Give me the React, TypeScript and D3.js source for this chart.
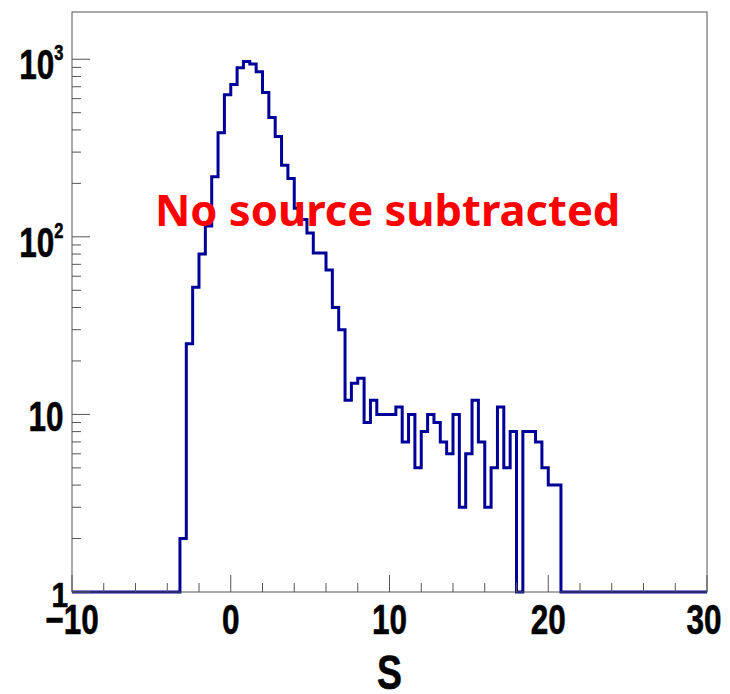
import React from "react";
import * as d3 from "d3";

// ---- data ----
const X_MIN = -10;
const X_MAX = 30;
const BIN_WIDTH = 0.4;
const Y_MIN = 1;
const Y_MAX = 1845;

// counts per bin (100 bins of width 0.4 from -10 to 30)
const counts: number[] = [
  0, 0, 0, 0, 0, 0, 0, 0, 0, 0,
  0, 0, 0, 0, 0, 0, 0, 2, 25, 52,
  80, 115, 218, 385, 630, 720, 895, 970, 940, 850,
  650, 470, 367, 253, 213, 145, 125, 105, 81, 81,
  65, 40, 30, 12, 15, 16, 9, 12, 10, 10,
  10, 11, 7, 10, 5, 8, 10, 9, 7, 6,
  10, 3, 6, 12, 7, 3, 5, 11, 5, 8,
  0, 8, 8, 7, 5, 4, 4, 0, 0, 0,
  0, 0, 0, 0, 0, 0, 0, 0, 0, 0,
  0, 0, 0, 0, 0, 0, 0, 0, 0, 0,
];

const xMajorTicks = [-10, 0, 10, 20, 30];
const xTickLabels = ["\u221210", "0", "10", "20", "30"];
const xMinorTicks = [-8, -6, -4, -2, 2, 4, 6, 8, 12, 14, 16, 18, 22, 24, 26, 28];
const yMajorTicks = [1, 10, 100, 1000];
const yTickBase = ["1", "10", "10", "10"];
const yTickExp = ["", "", "2", "3"];
const xTitle = "S";
const annotation = "No source subtracted";

// ---- layout ----
const W = 730;
const H = 694;
const L = 72;
const R = 707;
const T = 12;
const B = 592;

export default function App() {
  const x = d3.scaleLinear().domain([X_MIN, X_MAX]).range([L, R]);
  const y = d3.scaleLog().domain([Y_MIN, Y_MAX]).range([B, T]);
  const yv = (v: number) => y(Math.max(v, Y_MIN));

  const pts: [number, number][] = [];
  counts.forEach((c, i) => {
    const x0 = X_MIN + i * BIN_WIDTH;
    const x1 = x0 + BIN_WIDTH;
    pts.push([x(x0), yv(c)]);
    pts.push([x(x1), yv(c)]);
  });
  const path = d3.line()(pts) || "";

  const yMinor: number[] = [];
  for (let dec = 1; dec <= 1000; dec *= 10) {
    for (let k = 2; k <= 9; k++) {
      const v = k * dec;
      if (v < Y_MAX) yMinor.push(v);
    }
  }

  const axisColor = "#555";
  const labelFont = "'Liberation Sans', Arial, Helvetica, sans-serif";
  const bolden = { stroke: "#000", strokeWidth: 0.6 };

  return (
    <svg
      width={W}
      height={H}
      style={{ position: "absolute", left: 0, top: 0, background: "#fff" }}
    >
      <rect x={0} y={0} width={W} height={H} fill="#fff" />
      {/* histogram */}
      <path d={path} fill="none" stroke="#000099" strokeWidth={3} strokeLinejoin="miter" />
      {/* frame */}
      <rect x={L} y={T} width={R - L} height={B - T} fill="none" stroke={axisColor} strokeWidth={1} />
      {/* x ticks */}
      {xMajorTicks.map((t) => (
        <line key={"xM" + t} x1={x(t)} x2={x(t)} y1={B} y2={B - 17} stroke={axisColor} strokeWidth={1} />
      ))}
      {xMinorTicks.map((t) => (
        <line key={"xm" + t} x1={x(t)} x2={x(t)} y1={B} y2={B - 9} stroke={axisColor} strokeWidth={1} />
      ))}
      {/* y ticks */}
      {yMajorTicks.map((t) => (
        <line key={"yM" + t} x1={L} x2={L + 18} y1={y(t)} y2={y(t)} stroke={axisColor} strokeWidth={1} />
      ))}
      {yMinor.map((t) => (
        <line key={"ym" + t} x1={L} x2={L + 9} y1={y(t)} y2={y(t)} stroke={axisColor} strokeWidth={1} />
      ))}
      {/* x tick labels */}
      {xMajorTicks.map((t, i) => (
        <text
          key={"xl" + t}
          transform={`translate(${x(t) - (i === xMajorTicks.length - 1 ? 3 : 0)},${B + 41.5}) scale(0.75,1)`}
          textAnchor="middle"
          fontFamily={labelFont}
          fontWeight="bold"
          fontSize={42}
          fill="#000"
          {...bolden}
        >
          {xTickLabels[i]}
        </text>
      ))}
      {/* y tick labels */}
      {yMajorTicks.map((t, i) => {
        const exp = yTickExp[i];
        if (i === 0) {
          return (
            <text
              key={"yl" + t}
              transform={`translate(${L - 4},${y(t) + 14.5}) scale(0.85,1)`}
              textAnchor="end"
              fontFamily={labelFont}
              fontWeight="bold"
              fontSize={35}
              fill="#000"
              {...bolden}
            >
              {yTickBase[i]}
            </text>
          );
        }
        return (
          <text
            key={"yl" + t}
            transform={`translate(${L - 8.5},${y(t) + (exp ? 20 : 17)}) scale(0.75,1)`}
            textAnchor="end"
            fontFamily={labelFont}
            fontWeight="bold"
            fontSize={42}
            fill="#000"
            {...bolden}
          >
            <tspan>{yTickBase[i]}</tspan>
            {exp ? (
              <tspan fontSize={22} dy={-19}>
                {exp}
              </tspan>
            ) : null}
          </text>
        );
      })}
      {/* x title */}
      <text
        transform={`translate(${x(10)},${689}) scale(0.78,1)`}
        textAnchor="middle"
        fontFamily={labelFont}
        fontWeight="bold"
        fontSize={48}
        fill="#000"
        {...bolden}
      >
        {xTitle}
      </text>
      {/* annotation */}
      <text
        x={155}
        y={225.7}
        fontFamily="'Noto Sans', 'Open Sans', sans-serif"
        fontWeight="bold"
        fontSize={43.5}
        fill="#ff0000"
      >
        {annotation}
      </text>
    </svg>
  );
}
